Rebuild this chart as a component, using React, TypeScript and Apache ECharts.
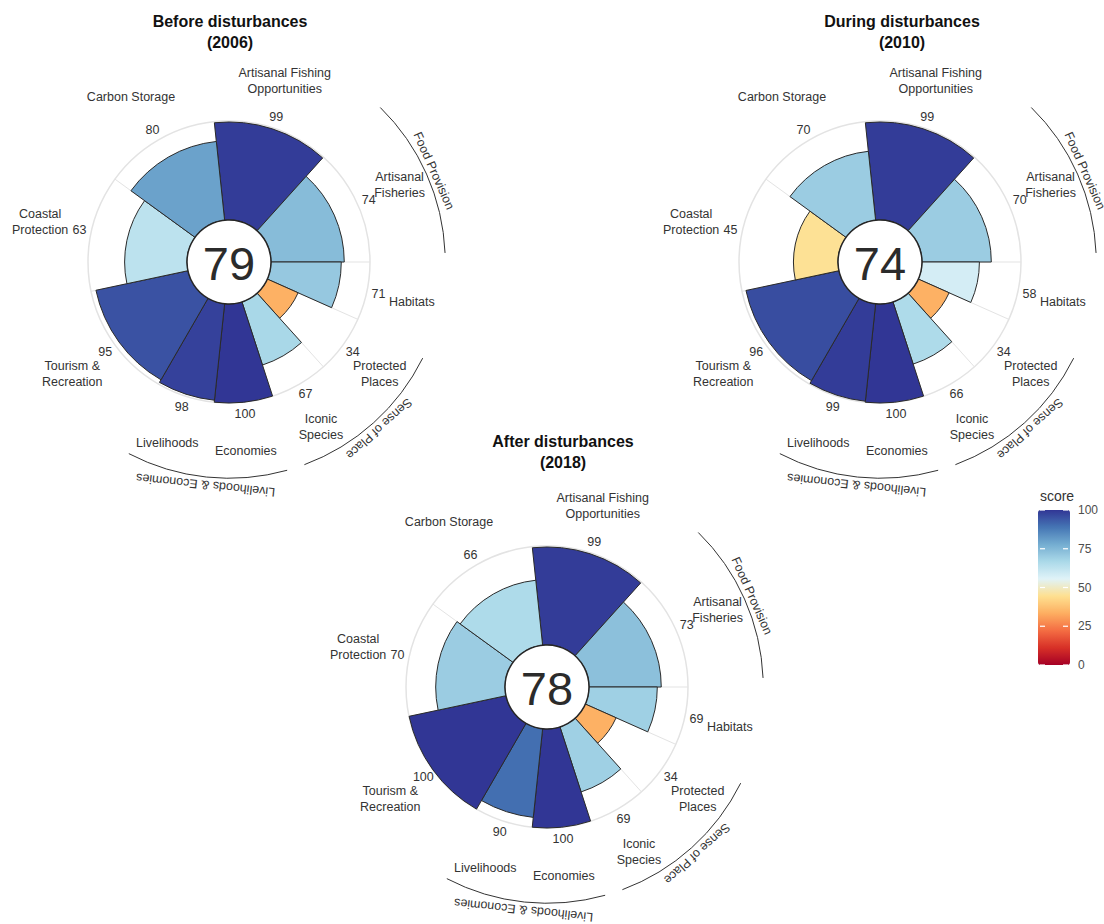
import React, { useEffect, useRef } from "react";
import * as echarts from "echarts";

const goalLabels = [
  "Artisanal Fishing\nOpportunities",
  "Artisanal\nFisheries",
  "Habitats",
  "Protected\nPlaces",
  "Iconic\nSpecies",
  "Economies",
  "Livelihoods",
  "Tourism &\nRecreation",
  "Coastal\nProtection",
  "Carbon Storage",
];
const goalWeights = [2, 2, 1, 1, 1, 1, 1, 2, 2, 2];
const scores2006 = [99, 74, 71, 34, 67, 100, 98, 95, 63, 80];
const scores2010 = [99, 70, 58, 34, 66, 100, 99, 96, 45, 70];
const scores2018 = [99, 73, 69, 34, 69, 100, 90, 100, 70, 66];
const indexScores = [79, 74, 78];
const panelTitles = [
  "Before disturbances\n(2006)",
  "During disturbances\n(2010)",
  "After disturbances\n(2018)",
];
const groupNames = ["Food Provision", "Sense of Place", "Livelihoods & Economies"];
const groupGoalRanges = [
  [1, 1],
  [3, 4],
  [5, 6],
];
const legendTicks = [0, 25, 50, 75, 100];
const palette = [
  "#a50026", "#d73027", "#f46d43", "#fdae61", "#fee090",
  "#e0f3f8", "#abd9e9", "#74add1", "#4575b4", "#313695",
];

const FONT = '"Liberation Sans", Arial, Helvetica, sans-serif';
const panelCenters = [
  [229, 262],
  [880, 262],
  [547, 687],
];
const titlePos = [
  [230, 32],
  [902, 32],
  [563, 452],
];

const unitStarts: number[] = [];
goalWeights.reduce((acc, w) => {
  unitStarts.push(acc);
  return acc + w;
}, 0);
const totalUnits = goalWeights.reduce((a, b) => a + b, 0);

const angleOf = (cs: any, p: number[]) => Math.atan2(p[1] - cs.cy, p[0] - cs.cx);

function renderPetal(params: any, api: any) {
  const cs = params.coordSys;
  const u0 = api.value(0);
  const u1 = api.value(1);
  const v = api.value(2);
  const gi = api.value(3);
  const inner = api.coord([0, u0]);
  const outer = api.coord([100, u0]);
  const tip0 = api.coord([v, u0]);
  const tip1 = api.coord([v, u1]);
  const r = Math.hypot(tip0[0] - cs.cx, tip0[1] - cs.cy);
  const r0 = Math.hypot(inner[0] - cs.cx, inner[1] - cs.cy);
  const a0 = angleOf(cs, tip0);
  let a1 = angleOf(cs, tip1);
  if (a1 <= a0) a1 += Math.PI * 2;
  const mid = (u0 + u1) / 2;
  const vp = api.coord([112, mid]);
  const lp = api.coord([149.5, mid]);
  return {
    type: "group",
    children: [
      {
        type: "line",
        z2: 1,
        shape: { x1: inner[0], y1: inner[1], x2: outer[0], y2: outer[1] },
        style: { stroke: "#e3e3e3", lineWidth: 1 },
      },
      {
        type: "sector",
        z2: 5,
        shape: { cx: cs.cx, cy: cs.cy, r0, r, startAngle: a0, endAngle: a1, clockwise: true },
        style: { fill: api.visual("color"), stroke: "#2a2a2a", lineWidth: 1 },
      },
      {
        type: "text",
        z2: 6,
        x: vp[0],
        y: vp[1],
        style: {
          text: String(v),
          align: "center",
          verticalAlign: "middle",
          fontSize: 12.5,
          fontFamily: FONT,
          fill: "#333",
        },
      },
      {
        type: "text",
        z2: 6,
        x: lp[0] - 3,
        y: lp[1],
        style: {
          text: goalLabels[gi],
          align: "center",
          verticalAlign: "middle",
          fontSize: 12.5,
          lineHeight: 16,
          fontFamily: FONT,
          fill: "#333",
        },
      },
    ],
  };
}

function renderGroup(params: any, api: any) {
  const cs = params.coordSys;
  const s = api.value(0);
  const e = api.value(1);
  const gi = api.value(2);
  const pA = api.coord([176, s + 0.1]);
  const pB = api.coord([176, e - 0.1]);
  const r = Math.hypot(pA[0] - cs.cx, pA[1] - cs.cy);
  const a0 = angleOf(cs, pA);
  let a1 = angleOf(cs, pB);
  if (a1 <= a0) a1 += Math.PI * 2;
  const tp = api.coord([184, (s + e) / 2]);
  const am = angleOf(cs, tp);
  return {
    type: "group",
    children: [
      {
        type: "arc",
        shape: { cx: cs.cx, cy: cs.cy, r, startAngle: a0, endAngle: a1, clockwise: true },
        style: { stroke: "#333", lineWidth: 1, fill: null },
      },
      {
        type: "text",
        x: tp[0],
        y: tp[1],
        rotation: -(am + Math.PI / 2),
        style: {
          text: groupNames[gi],
          align: "center",
          verticalAlign: "middle",
          fontSize: 12.5,
          fontFamily: FONT,
          fill: "#333",
        },
      },
    ],
  };
}

function renderCenter(params: any, api: any) {
  const cs = params.coordSys;
  const inner = api.coord([0, 0]);
  const r0 = Math.hypot(inner[0] - cs.cx, inner[1] - cs.cy);
  return {
    type: "group",
    children: [
      {
        type: "circle",
        z2: 10,
        shape: { cx: cs.cx, cy: cs.cy, r: r0 },
        style: { fill: "#fff", stroke: "#262626", lineWidth: 1.5 },
      },
      {
        type: "text",
        z2: 11,
        x: cs.cx,
        y: cs.cy + 1,
        style: {
          text: String(api.value(1)),
          align: "center",
          verticalAlign: "middle",
          fontSize: 47,
          fontFamily: FONT,
          fill: "#2b2b2b",
        },
      },
    ],
  };
}

export default function App() {
  const ref = useRef<HTMLDivElement>(null);
  useEffect(() => {
    if (!ref.current) return;
    const chart = echarts.init(ref.current, null, { renderer: "svg" });
    const allScores = [scores2006, scores2010, scores2018];

    const series: any[] = [];
    const petalSeriesIdx: number[] = [];
    allScores.forEach((scores, p) => {
      petalSeriesIdx.push(series.length);
      series.push({
        type: "custom",
        coordinateSystem: "polar",
        polarIndex: p,
        renderItem: renderPetal,
        data: scores.map((s, i) => [unitStarts[i], unitStarts[i] + goalWeights[i], s, i]),
        silent: true,
      });
      series.push({
        type: "custom",
        coordinateSystem: "polar",
        polarIndex: p,
        renderItem: renderGroup,
        data: groupGoalRanges.map(([a, b], gi) => [
          unitStarts[a],
          unitStarts[b] + goalWeights[b],
          gi,
        ]),
        silent: true,
      });
      series.push({
        type: "custom",
        coordinateSystem: "polar",
        polarIndex: p,
        renderItem: renderCenter,
        data: [[0, indexScores[p]]],
        silent: true,
      });
    });

    const barTop = 510;
    const barH = 155;
    const barLeft = 1038;
    const barW = 32;
    const graphics: any[] = [];
    panelTitles.forEach((t, i) => {
      graphics.push({
        type: "text",
        x: titlePos[i][0],
        y: titlePos[i][1],
        style: {
          text: t,
          align: "center",
          verticalAlign: "middle",
          fontSize: 16,
          fontWeight: "bold",
          lineHeight: 21,
          fontFamily: FONT,
          fill: "#111",
        },
      });
    });
    graphics.push({
      type: "text",
      x: 1057,
      y: 496,
      style: {
        text: "score",
        align: "center",
        verticalAlign: "middle",
        fontSize: 14,
        fontFamily: FONT,
        fill: "#333",
      },
    });
    legendTicks.forEach((t) => {
      const y = barTop + barH - (t / 100) * barH;
      graphics.push({
        type: "text",
        x: barLeft + barW + 8,
        y,
        style: {
          text: String(t),
          align: "left",
          verticalAlign: "middle",
          fontSize: 12,
          fontFamily: FONT,
          fill: "#4d4d4d",
        },
      });
      graphics.push({
        type: "line",
        z: 100,
        shape: { x1: barLeft + 2, y1: y, x2: barLeft + 7, y2: y },
        style: { stroke: "#fff", lineWidth: 1.2 },
      });
      graphics.push({
        type: "line",
        z: 100,
        shape: { x1: barLeft + barW - 7, y1: y, x2: barLeft + barW - 2, y2: y },
        style: { stroke: "#fff", lineWidth: 1.2 },
      });
    });

    chart.setOption({
      animation: false,
      backgroundColor: "#fff",
      polar: panelCenters.map((c) => ({ center: c, radius: [42, 141] })),
      angleAxis: panelCenters.map((_, i) => ({
        polarIndex: i,
        type: "value",
        min: 0,
        max: totalUnits,
        startAngle: 96,
        clockwise: true,
        axisLine: { show: true, lineStyle: { color: "#e3e3e3", width: 1.5 } },
        axisTick: { show: false },
        axisLabel: { show: false },
        splitLine: { show: false },
        splitArea: { show: false },
      })),
      radiusAxis: panelCenters.map((_, i) => ({
        polarIndex: i,
        type: "value",
        min: 0,
        max: 100,
        axisLine: { show: false },
        axisTick: { show: false },
        axisLabel: { show: false },
        splitLine: { show: false },
      })),
      visualMap: {
        type: "continuous",
        min: 0,
        max: 100,
        dimension: 2,
        seriesIndex: petalSeriesIdx,
        inRange: { color: palette },
        calculable: false,
        hoverLink: false,
        itemWidth: barW,
        itemHeight: barH,
        left: barLeft,
        top: barTop,
        padding: 0,
        text: null,
        showLabel: false,
      },
      graphic: graphics,
      series,
    });
    return () => chart.dispose();
  }, []);
  return (
    <div
      ref={ref}
      style={{ position: "absolute", left: 0, top: 0, width: 1104, height: 924 }}
    />
  );
}
